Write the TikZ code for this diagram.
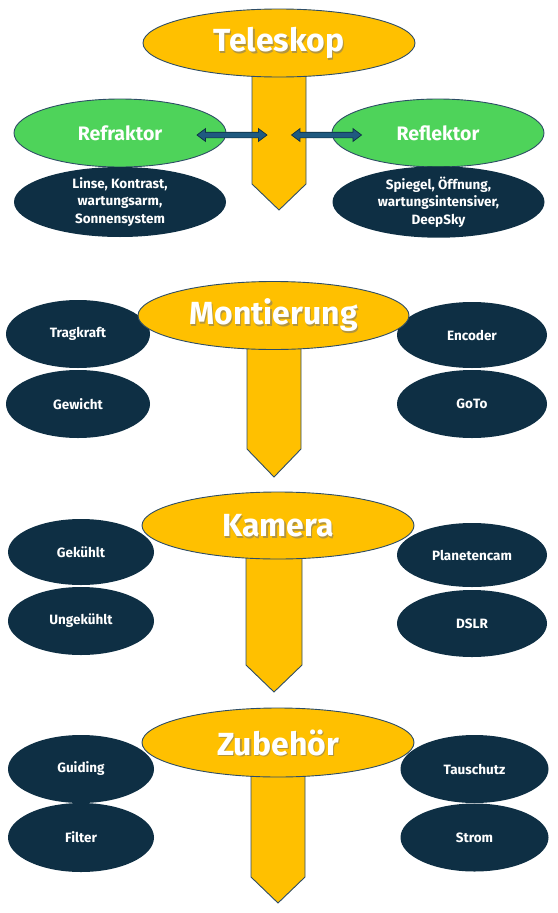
\documentclass[tikz,border=0pt]{standalone}
\usepackage{fontspec}
\setmainfont{Fira Sans}
\usetikzlibrary{shapes.geometric,shapes.arrows,calc}
\definecolor{gold}{HTML}{FFC000}
\definecolor{navy}{HTML}{0E2F44}
\definecolor{leaf}{HTML}{4ED35A}
\definecolor{edgec}{HTML}{2E4D66}
\definecolor{arrowblue}{HTML}{1F5A80}
\begin{document}
\begin{tikzpicture}[x=1pt,y=-1pt,
  titleell/.style={ellipse, draw=edgec, line width=0.9pt, fill=gold, inner sep=0pt},
  greenell/.style={ellipse, draw=edgec, line width=0.9pt, fill=leaf, inner sep=0pt, text=white, font=\bfseries\fontsize{19.5}{22}\selectfont},
  navyell/.style={ellipse, fill=navy, inner sep=0pt, text=white, align=center, font=\bfseries\fontsize{13.5}{17.5}\selectfont},
  titletxt/.style={text=white, inner sep=0pt, font=\bfseries\fontsize{32}{36}\selectfont},
  titleshadow/.style={text=black!55, opacity=0.55, inner sep=0pt, font=\bfseries\fontsize{32}{36}\selectfont},
  shaftshape/.style={draw=edgec, line width=0.9pt, fill=gold, line join=miter},
  dbl/.style={double arrow, draw=navy, line width=0.7pt, fill=arrowblue, inner sep=2.5pt, minimum height=70pt, double arrow head extend=3.5pt, double arrow tip angle=74},
  wide/.style={minimum width=212pt, minimum height=68pt},
  side/.style={minimum width=146pt, minimum height=68pt}
]
\useasboundingbox (0,0) rectangle (557,913);

% ---------------- Section 1: Teleskop ----------------
\draw[shaftshape] (252,60) -- (306,60) -- (306,184) -- (279,210) -- (252,184) -- cycle;
\node[titleell, minimum width=272pt, minimum height=68pt] (tel) at (279,43) {};
\node[titleshadow] (telS) at ($(tel.center)+(1.3,1.8)$) {Teleskop};
\node[titletxt] (telT) at (tel.center) {Teleskop};

\node[greenell, wide] (refr) at (120,133) {Refraktor};
\node[greenell, wide] (refl) at (438,133) {Reflektor};
\node[navyell, wide, minimum height=70pt] (linse) at (120,202) {Linse, Kontrast,\\wartungsarm,\\Sonnensystem};
\node[navyell, wide, minimum height=70pt] (spiegel) at (438.5,202) {Spiegel, Öffnung,\\wartungsintensiver,\\DeepSky};

\coordinate (la1) at (197,135);
\coordinate (la2) at (267,135);
\coordinate (ra1) at (291.5,135);
\coordinate (ra2) at (361.5,135);
\node[dbl] (arrL) at ($(la1)!0.5!(la2)$) {};
\node[dbl] (arrR) at ($(ra1)!0.5!(ra2)$) {};

% ---------------- Section 2: Montierung ----------------
\node[navyell, minimum width=144pt, minimum height=68pt] (trag) at (78,334) {Tragkraft};
\node[navyell, minimum width=144pt, minimum height=68pt] (gew) at (78,404) {Gewicht};
\node[navyell, minimum width=150pt, minimum height=66pt] (enc) at (472,335) {Encoder};
\node[navyell, minimum width=150pt, minimum height=68pt] (goto) at (472,404) {GoTo};
\draw[shaftshape] (247,330) -- (301,330) -- (301,449) -- (274,477) -- (247,449) -- cycle;
\node[titleell, minimum width=271pt, minimum height=68pt] (mon) at (273.5,315.5) {};
\node[titleshadow] (monS) at ($(mon.center)+(1.3,1.8)$) {Montierung};
\node[titletxt] (monT) at (mon.center) {Montierung};

% ---------------- Section 3: Kamera ----------------
\node[navyell, side, minimum height=66pt] (gek) at (81,552) {Gekühlt};
\node[navyell, side] (ungek) at (81,621) {Ungekühlt};
\node[navyell, minimum width=150pt, minimum height=64pt] (plan) at (472,555) {Planetencam};
\node[navyell, minimum width=150pt, minimum height=67pt] (dslr) at (472,623.5) {DSLR};
\draw[shaftshape] (246,540) -- (302,540) -- (302,665) -- (274,692) -- (246,665) -- cycle;
\node[titleell, minimum width=272pt, minimum height=67pt] (kam) at (278,525.5) {};
\node[titleshadow] (kamS) at ($(kam.center)+(1.3,1.8)$) {Kamera};
\node[titletxt] (kamT) at (kam.center) {Kamera};

% ---------------- Section 4: Zubehör ----------------
\node[navyell, side] (guid) at (81,769) {Guiding};
\node[navyell, side, minimum height=69pt] (filt) at (81,837.5) {Filter};
\node[navyell, minimum width=148pt, minimum height=68pt] (tau) at (474.5,769) {Tauschutz};
\node[navyell, minimum width=148pt, minimum height=68pt] (strom) at (474.5,837.5) {Strom};
\draw[shaftshape] (251,760) -- (305,760) -- (305,877) -- (278,903) -- (251,877) -- cycle;
\node[titleell, minimum width=272pt, minimum height=69pt] (zub) at (278,742.5) {};
\node[titleshadow] (zubS) at ($(zub.center)+(1.3,1.8)$) {Zubehör};
\node[titletxt] (zubT) at (zub.center) {Zubehör};
\end{tikzpicture}
\end{document}
